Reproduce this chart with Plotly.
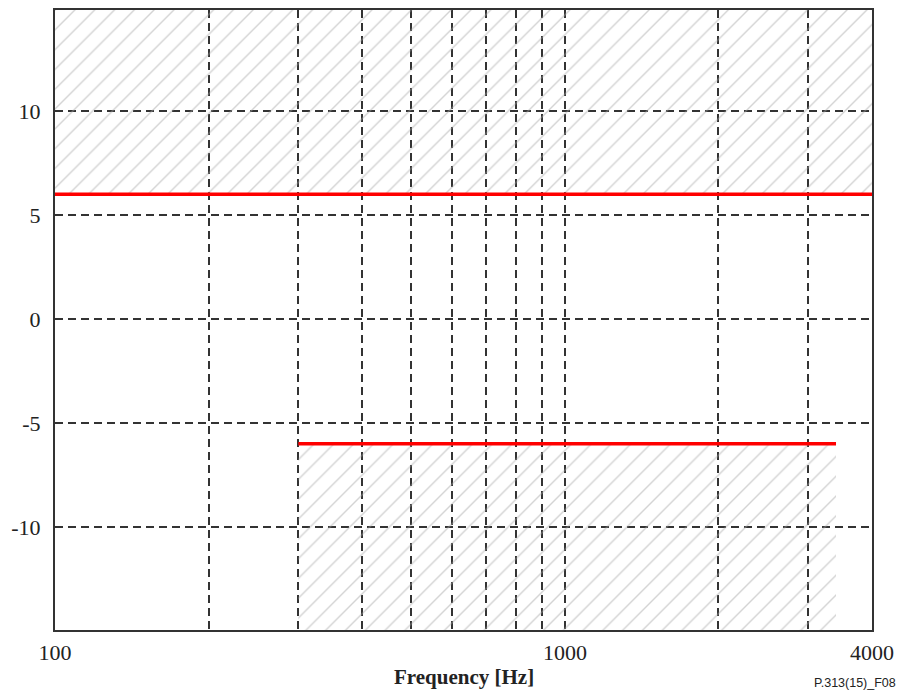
import math
import plotly.graph_objects as go

# Data
x_range = [100, 4000]
y_range = [-14.95, 14.85]
upper_freq = [100, 4000]
upper_db = [6, 6]
lower_freq = [300, 3400]
lower_db = [-6, -6]
x_major_ticks = [100, 1000, 4000]
x_major_labels = ["100", "1000", "4000"]
x_minor_ticks = [200, 300, 400, 500, 600, 700, 800, 900, 2000, 3000]
y_ticks = [-10, -5, 0, 5, 10]
y_labels = ["-10", "-5", "0", "5", "10"]

GRID = "#333333"
SERIF = "Liberation Serif, Times New Roman, serif"
HATCH = dict(shape="/", fgcolor="#a8a8a8", bgcolor="rgba(0,0,0,0)", size=14, solidity=0.1)

fig = go.Figure()

# Upper hatched forbidden region
fig.add_trace(go.Scatter(
    x=[upper_freq[0], upper_freq[1], upper_freq[1], upper_freq[0], upper_freq[0]],
    y=[upper_db[0], upper_db[1], y_range[1], y_range[1], upper_db[0]],
    fill="toself", fillcolor="rgba(0,0,0,0)", fillpattern=HATCH,
    line=dict(width=0), mode="lines", hoverinfo="skip", showlegend=False))

# Lower hatched forbidden region
fig.add_trace(go.Scatter(
    x=[lower_freq[0], lower_freq[1], lower_freq[1], lower_freq[0], lower_freq[0]],
    y=[lower_db[0], lower_db[1], y_range[0], y_range[0], lower_db[0]],
    fill="toself", fillcolor="rgba(0,0,0,0)", fillpattern=HATCH,
    line=dict(width=0), mode="lines", hoverinfo="skip", showlegend=False))

# Limit lines
fig.add_trace(go.Scatter(x=upper_freq, y=upper_db, mode="lines",
                         line=dict(color="#ff0000", width=3.5), showlegend=False))
fig.add_trace(go.Scatter(x=lower_freq, y=lower_db, mode="lines",
                         line=dict(color="#ff0000", width=3.5), showlegend=False))

fig.update_layout(
    width=901, height=694,
    margin=dict(l=55, r=29, t=10, b=64),
    paper_bgcolor="white", plot_bgcolor="white",
    font=dict(family=SERIF, size=22, color="#222222"),
    xaxis=dict(
        type="log", automargin=False,
        range=[math.log10(x_range[0]), math.log10(x_range[1])],
        tickvals=x_major_ticks, ticktext=x_major_labels,
        tickfont=dict(family=SERIF, size=22, color="#222222"),
        showgrid=True, gridcolor=GRID, gridwidth=1.5, griddash="8px,5px",
        minor=dict(tickvals=x_minor_ticks, showgrid=True, gridcolor=GRID,
                   gridwidth=1.5, griddash="8px,5px", ticks=""),
        showline=True, linecolor="#333333", linewidth=2, mirror=True,
        ticks="", zeroline=False, ticklabelstandoff=2,
    ),
    yaxis=dict(
        range=y_range, automargin=False,
        tickvals=y_ticks, ticktext=y_labels,
        tickfont=dict(family=SERIF, size=22, color="#222222"),
        showgrid=True, gridcolor=GRID, gridwidth=1.5, griddash="8px,5px",
        showline=True, linecolor="#333333", linewidth=2, mirror=True,
        ticks="", zeroline=False, ticklabelstandoff=8,
    ),
    annotations=[
        dict(text="<b>Frequency [Hz]</b>", xref="paper", yref="paper",
             x=0.5, y=-0.076, xanchor="center", yanchor="middle", showarrow=False,
             font=dict(family=SERIF, size=21, color="#222222")),
        dict(text="P.313(15)_F08", xref="paper", yref="paper",
             x=1.032, y=-0.085, xanchor="right", yanchor="middle", showarrow=False,
             font=dict(family="Liberation Sans, Arial, sans-serif", size=12.5, color="#222222")),
    ],
)

fig.write_html("out.html")
